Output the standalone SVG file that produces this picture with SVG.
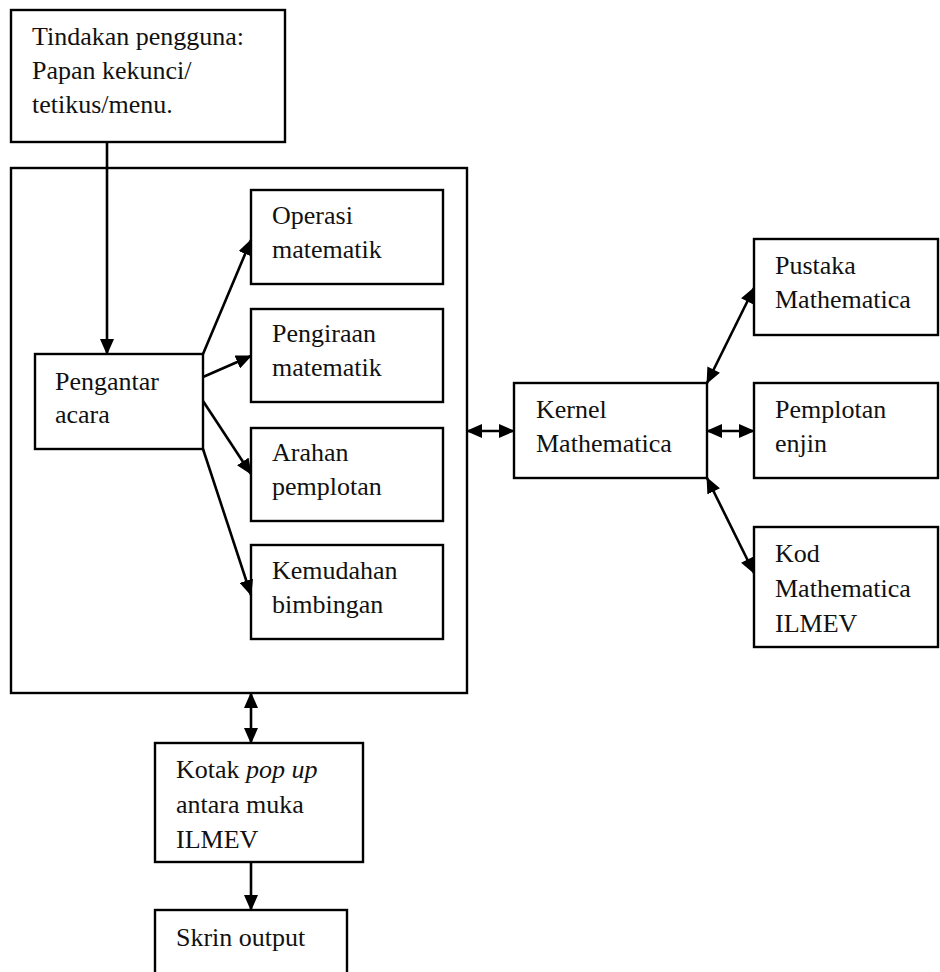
<svg xmlns="http://www.w3.org/2000/svg" width="940" height="972" viewBox="0 0 940 972">
<style>
.box{fill:#fff;stroke:#000;stroke-width:2.4}
.t{font-family:"Liberation Serif","Times New Roman",serif;font-size:26px;fill:#111}
.c{stroke:#000;stroke-width:2.6;fill:none}
.s{marker-end:url(#ah)}
.d{marker-start:url(#ah);marker-end:url(#ah)}
</style>
<defs>
<marker id="ah" viewBox="0 0 16 14" refX="15" refY="7" markerWidth="16" markerHeight="14" markerUnits="userSpaceOnUse" orient="auto-start-reverse">
<path d="M0,0 L16,7 L0,14 z" fill="#000"/>
</marker>
</defs>
<rect width="940" height="972" fill="#fff"/>
<g id="outer"><rect class="box" x="11" y="168" width="456" height="525"/></g>
<g id="user"><rect class="box" x="11" y="10" width="274" height="132"/>
<text class="t" x="32" y="45">Tindakan pengguna:</text>
<text class="t" x="32" y="79">Papan kekunci/</text>
<text class="t" x="32" y="113">tetikus/menu.</text></g>
<g id="pengantar"><rect class="box" x="35" y="354" width="168" height="95"/>
<text class="t" x="55" y="390">Pengantar</text>
<text class="t" x="55" y="423">acara</text></g>
<g id="operasi"><rect class="box" x="251" y="190" width="192" height="94"/>
<text class="t" x="272" y="224">Operasi</text>
<text class="t" x="272" y="258">matematik</text></g>
<g id="pengiraan"><rect class="box" x="251" y="309" width="192" height="93"/>
<text class="t" x="272" y="342">Pengiraan</text>
<text class="t" x="272" y="376">matematik</text></g>
<g id="arahan"><rect class="box" x="251" y="428" width="192" height="93"/>
<text class="t" x="272" y="461">Arahan</text>
<text class="t" x="272" y="495">pemplotan</text></g>
<g id="kemudahan"><rect class="box" x="251" y="545" width="192" height="94"/>
<text class="t" x="272" y="579">Kemudahan</text>
<text class="t" x="272" y="613">bimbingan</text></g>
<g id="kernel"><rect class="box" x="514" y="383" width="193" height="95"/>
<text class="t" x="536" y="418">Kernel</text>
<text class="t" x="536" y="452">Mathematica</text></g>
<g id="pustaka"><rect class="box" x="754" y="239" width="184" height="96"/>
<text class="t" x="775" y="274">Pustaka</text>
<text class="t" x="775" y="308">Mathematica</text></g>
<g id="pemplotan"><rect class="box" x="754" y="383" width="184" height="95"/>
<text class="t" x="775" y="418">Pemplotan</text>
<text class="t" x="775" y="452">enjin</text></g>
<g id="kod"><rect class="box" x="754" y="527" width="184" height="120"/>
<text class="t" x="775" y="562">Kod</text>
<text class="t" x="775" y="597">Mathematica</text>
<text class="t" x="775" y="632">ILMEV</text></g>
<g id="popup"><rect class="box" x="155" y="743" width="208" height="119"/>
<text class="t" x="176" y="778">Kotak <tspan font-style="italic">pop up</tspan></text>
<text class="t" x="176" y="813">antara muka</text>
<text class="t" x="176" y="848">ILMEV</text></g>
<g id="skrin"><rect class="box" x="155" y="910" width="192" height="80"/>
<text class="t" x="176" y="946">Skrin output</text></g>
<g id="connectors">
<line class="c s" x1="107" y1="142" x2="107" y2="354"/>
<line class="c s" x1="203" y1="354" x2="251" y2="240"/>
<line class="c s" x1="203" y1="377" x2="251" y2="356"/>
<line class="c s" x1="203" y1="401" x2="251" y2="474"/>
<line class="c s" x1="203" y1="449" x2="251" y2="595"/>
<line class="c d" x1="467" y1="431" x2="514" y2="431"/>
<line class="c d" x1="707" y1="383" x2="754" y2="288"/>
<line class="c d" x1="707" y1="431" x2="754" y2="431"/>
<line class="c d" x1="707" y1="478" x2="754" y2="573"/>
<line class="c d" x1="251" y1="693" x2="251" y2="743"/>
<line class="c s" x1="251" y1="862" x2="251" y2="910"/>
</g>
</svg>
